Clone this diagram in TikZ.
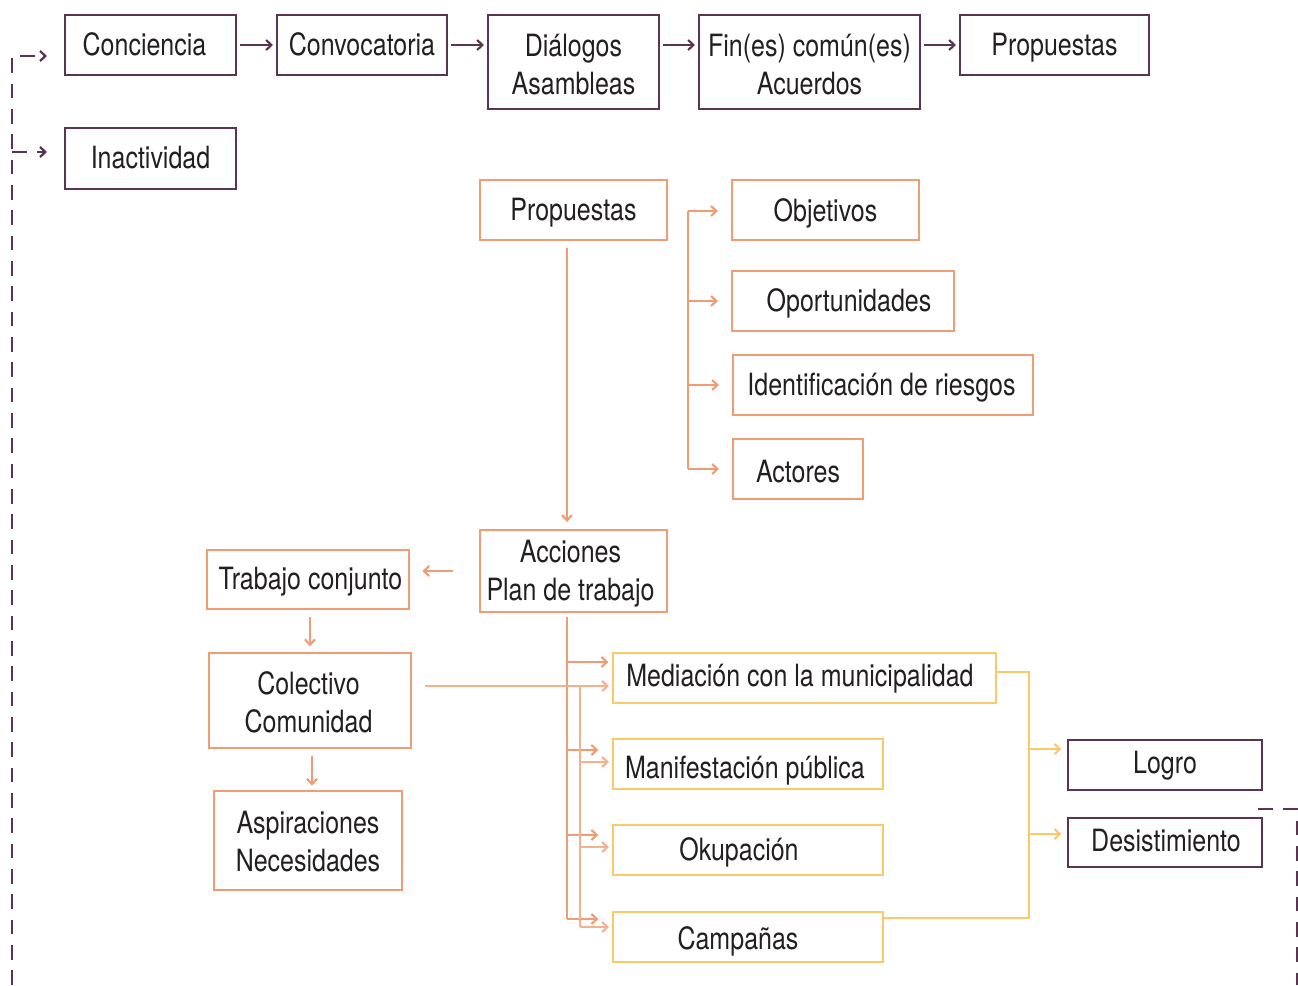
\documentclass[tikz,border=0pt]{standalone}
\usepackage{fontspec}
\setmainfont{TeX Gyre Heros}[FakeStretch=0.815]
\usetikzlibrary{arrows.meta}
\definecolor{plum}{HTML}{5B3451}
\definecolor{salmon}{HTML}{F09C74}
\definecolor{peach}{HTML}{F5B08E}
\definecolor{sun}{HTML}{F9CA6A}
\definecolor{ink}{HTML}{231F20}

% box from corner (x1,y1) to corner (x2,y2), in pixel units,
% with its label shifted by (dx,dy) pixels from the box centre
\newcommand{\mkbox}[9]{%
  \node[#1, minimum width={(#5-#3-2)*0.75pt}, minimum height={(#6-#4-2)*0.75pt}] (#2) at ({(#3+#5)/2},{(#4+#6)/2}) {};
  \node[boxtext] (#2-t) at ([xshift={#7*0.75pt}, yshift={-#8*0.75pt}]#2.center) {#9};}

\tikzset{
  basebox/.style={line width=2pt, inner sep=0pt, outer sep=0pt, fill=white},
  pbox/.style={basebox, draw=plum},
  obox/.style={basebox, draw=salmon, line width=2.2pt},
  ybox/.style={basebox, draw=sun, line width=2.2pt},
  boxtext/.style={inner sep=0pt, align=center},
  tip/.style={-{Straight Barb[length=4pt,width=7.5pt]}},
  parr/.style={draw=plum, line width=1.6pt, tip},
  oline/.style={draw=salmon, line width=1.6pt},
  oarr/.style={oline, tip},
  lline/.style={draw=peach, line width=1.6pt},
  larr/.style={lline, tip},
  yline/.style={draw=sun, line width=1.6pt},
  yarr/.style={yline, tip},
  dline/.style={draw=plum, line width=1.7pt, dash pattern=on 11pt off 8pt},
}

\begin{document}
\begin{tikzpicture}[x=0.75pt, y=-0.75pt, font=\fontsize{23}{28.5}\selectfont, text=ink]
\useasboundingbox[fill=white] (0,0) rectangle (1298,985);

% first row
\mkbox{pbox}{conc}{64}{14}{237}{76}{-6}{-1}{Conciencia}
\mkbox{pbox}{conv}{276}{14}{448}{76}{0}{-1}{Convocatoria}
\mkbox{pbox}{dial}{487}{14}{660}{110}{0}{3}{Diálogos\\Asambleas}
\mkbox{pbox}{fin}{698}{14}{921}{110}{0}{3}{Fin(es) común(es)\\Acuerdos}
\mkbox{pbox}{prop}{959}{14}{1150}{76}{0}{3}{Propuestas}
\mkbox{pbox}{inac}{64}{127}{237}{190}{0}{-1}{Inactividad}

\foreach \a/\b in {conc/conv, conv/dial, dial/fin, fin/prop}
  \draw[parr, shorten <=3pt, shorten >=3pt] (conc.east -| \a.east) -- (conc.east -| \b.west);

% proposals and their aspects
\mkbox{obox}{prop2}{479}{179}{668}{241}{0}{3}{Propuestas}
\mkbox{obox}{obj}{731}{179}{920}{241}{0}{3}{Objetivos}
\mkbox{obox}{opo}{731}{270}{955}{332}{6}{2}{Oportunidades}
\mkbox{obox}{ries}{732}{354}{1034}{416}{-1.5}{3}{Identificación de riesgos}
\mkbox{obox}{act}{732}{438}{864}{500}{0}{3}{Actores}

\coordinate (bt) at (688,211);
\draw[oline] (bt) -- (bt |- act.west);
\draw[oarr, shorten >=10.5pt] (bt) -- (bt -| obj.west);
\foreach \t in {opo, ries, act}
  \draw[oarr, shorten >=10.5pt] (bt |- \t.west) -- (\t.west);

% actions
\mkbox{obox}{acc}{479}{529}{668}{613}{-3}{2.5}{Acciones\\Plan de trabajo}
\mkbox{obox}{trab}{206}{549}{410}{610}{2.5}{2}{Trabajo conjunto}
\mkbox{obox}{col}{208}{652}{412}{749}{-1.5}{1.5}{Colectivo\\Comunidad}
\mkbox{obox}{asp}{213}{790}{403}{891}{0}{1}{Aspiraciones\\Necesidades}

\draw[oarr, shorten <=6pt, shorten >=6pt] ([xshift=-4.9pt]prop2.south) -- ([xshift=-4.9pt]acc.north);
\draw[oarr, shorten <=20pt, shorten >=10pt] (acc.west) -- (acc.west -| trab.east);
\draw[oarr, shorten <=6pt, shorten >=5pt] ([xshift=1.5pt]trab.south) -- ([xshift=1.5pt]trab.south |- col.north);
\draw[oarr, shorten <=6pt, shorten >=4pt] ([xshift=1.5pt]col.south) -- ([xshift=1.5pt]col.south |- asp.north);

% forms of action
\mkbox{ybox}{med}{612}{652}{997}{704}{-4.5}{1}{Mediación con la municipalidad}
\mkbox{ybox}{man}{612}{738}{884}{790}{-3}{7}{Manifestación pública}
\mkbox{ybox}{oku}{612}{824}{884}{876}{-9}{2}{Okupación}
\mkbox{ybox}{cam}{612}{911}{884}{963}{-10}{4}{Campañas}

% branches from the work plan
\coordinate (a0) at (567,617);
\coordinate (a1) at (567,662);
\coordinate (a2) at (567,750);
\coordinate (a3) at (567,835);
\coordinate (a4) at (567,919);
\draw[oline] (a0) -- (a4);
\draw[oarr, shorten >=3.5pt] (a1) -- (a1 -| med.west);
\foreach \p/\t in {a2/man, a3/oku, a4/cam}
  \draw[oarr, shorten >=11pt] (\p) -- (\p -| \t.west);

% branches from the community
\coordinate (c0) at (425,686);
\coordinate (c1) at (580,686);
\coordinate (c2) at (580,762);
\coordinate (c3) at (580,847);
\coordinate (c4) at (580,927);
\draw[larr, shorten >=3pt] (c0) -- (c0 -| med.west);
\draw[lline] (c1) -- (c4);
\foreach \p/\t in {c2/man, c3/oku, c4/cam}
  \draw[larr, shorten >=3pt] (\p) -- (\p -| \t.west);

% outcomes
\mkbox{pbox}{logro}{1067}{739}{1263}{791}{0}{1}{Logro}
\mkbox{pbox}{desis}{1067}{817}{1263}{868}{1}{-2}{Desistimiento}

\coordinate (y0) at (1029,672);
\coordinate (y1) at (1029,918);
\coordinate (y2) at (1029,749);
\coordinate (y3) at (1029,834);
\draw[yline] (y0 -| med.east) -- (y0) -- (y1) -- (y1 -| cam.east);
\draw[yarr, shorten >=5pt] (y2) -- (y2 -| logro.west);
\draw[yarr, shorten >=5pt] (y3) -- (y3 -| desis.west);

% return paths
\coordinate (r0) at (1258,809);
\coordinate (r1) at (1297,809);
\coordinate (r2) at (1297,985);
\draw[dline] (r0) -- (r1) -- (r2);

\coordinate (l0) at (12,985);
\coordinate (l1) at (12,56);
\coordinate (l2) at (47,56);
\coordinate (l3) at (12,152);
\coordinate (l4) at (47,152);
\draw[dline, tip] (l0) -- (l1) -- (l2);
\draw[dline, tip] (l3) -- (l4);
\end{tikzpicture}
\end{document}
